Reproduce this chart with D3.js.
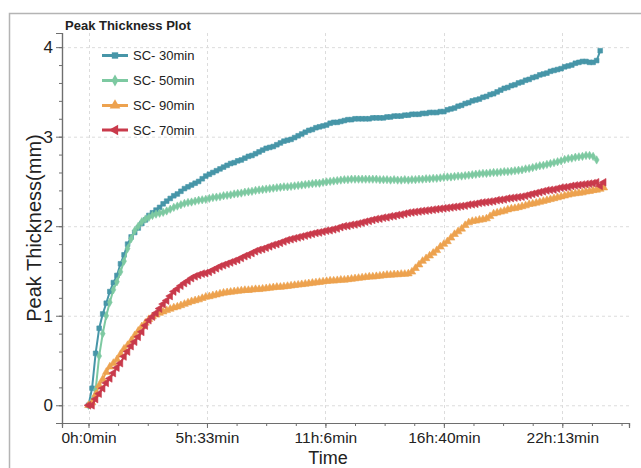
<!DOCTYPE html>
<html><head><meta charset="utf-8">
<script src="https://cdn.jsdelivr.net/npm/d3@7"></script>
<style>body{margin:0;background:#fff}svg{display:block;font-family:Arial,"Liberation Sans",sans-serif}</style>
</head><body><svg id="c" width="641" height="468"></svg>
<script>
// time of each sample, minutes
const timesMin = [0,10,20,30,40,50,60,70,80,90,100,110,120,130,140,150,160,170,180,190,
200,210,220,230,240,250,260,270,280,290,300,310,320,330,340,350,360,370,380,390,
400,410,420,430,440,450,460,470,480,490,500,510,520,530,540,550,560,570,580,590,
600,610,620,630,640,650,660,670,680,690,700,710,720,730,740,750,760,770,780,790,
800,810,820,830,840,850,860,870,880,890,900,910,920,930,940,950,960,970,980,990,
1000,1010,1020,1030,1040,1050,1060,1070,1080,1090,1100,1110,1120,1130,1140,1150,1160,1170,1180,1190,
1200,1210,1220,1230,1240,1250,1260,1270,1280,1290,1300,1310,1320,1330,1340,1350,1360,1370,1380,1390,
1400,1410,1420,1430,1440,1450];

const sc30 = [0,0.19,0.58,0.86,1.02,1.14,1.27,1.37,1.45,1.58,
1.68,1.80,1.88,1.93,1.98,2.03,2.07,2.12,2.15,2.18,
2.21,2.25,2.28,2.31,2.34,2.36,2.39,2.42,2.44,2.46,
2.48,2.50,2.53,2.56,2.58,2.60,2.62,2.64,2.66,2.68,
2.70,2.71,2.73,2.74,2.76,2.78,2.79,2.81,2.83,2.85,
2.87,2.88,2.89,2.91,2.93,2.95,2.96,2.97,2.99,3.01,
3.03,3.05,3.07,3.08,3.10,3.11,3.12,3.13,3.15,3.16,
3.16,3.17,3.18,3.19,3.19,3.20,3.20,3.20,3.20,3.20,
3.21,3.21,3.21,3.21,3.22,3.22,3.23,3.23,3.23,3.24,
3.24,3.25,3.25,3.25,3.26,3.26,3.27,3.27,3.27,3.28,
3.28,3.30,3.31,3.32,3.34,3.35,3.37,3.38,3.40,3.41,
3.42,3.44,3.45,3.47,3.48,3.50,3.52,3.54,3.55,3.57,
3.58,3.60,3.61,3.63,3.64,3.66,3.67,3.69,3.70,3.71,
3.73,3.74,3.75,3.76,3.78,3.79,3.80,3.82,3.83,3.84,
3.84,3.83,3.83,3.85,3.96];

const sc50 = [0,0.05,0.17,0.55,0.80,1.00,1.15,1.29,1.38,1.49,
1.61,1.75,1.86,1.95,2.00,2.05,2.08,2.10,2.12,2.135,
2.145,2.155,2.17,2.19,2.21,2.225,2.24,2.255,2.265,2.27,
2.28,2.29,2.295,2.30,2.31,2.32,2.325,2.33,2.34,2.345,
2.35,2.36,2.365,2.37,2.38,2.385,2.39,2.40,2.405,2.41,
2.415,2.42,2.425,2.43,2.435,2.44,2.44,2.445,2.45,2.455,
2.46,2.465,2.47,2.475,2.48,2.48,2.49,2.495,2.50,2.505,
2.51,2.515,2.52,2.52,2.525,2.525,2.525,2.525,2.525,2.525,
2.525,2.525,2.52,2.52,2.52,2.515,2.52,2.515,2.515,2.52,
2.515,2.52,2.52,2.525,2.525,2.53,2.53,2.535,2.535,2.54,
2.545,2.55,2.55,2.555,2.56,2.56,2.565,2.57,2.575,2.58,
2.585,2.59,2.59,2.595,2.60,2.60,2.605,2.61,2.61,2.615,
2.62,2.625,2.63,2.64,2.645,2.655,2.665,2.675,2.68,2.69,
2.70,2.71,2.72,2.73,2.745,2.755,2.76,2.77,2.775,2.78,
2.79,2.79,2.78,2.74];

const sc90 = [0,0.03,0.12,0.22,0.29,0.37,0.43,0.47,0.51,0.57,
0.63,0.67,0.72,0.78,0.83,0.88,0.92,0.96,0.99,1.01,
1.03,1.045,1.06,1.075,1.09,1.10,1.115,1.13,1.145,1.16,
1.17,1.18,1.195,1.21,1.215,1.225,1.235,1.245,1.255,1.26,
1.265,1.27,1.275,1.28,1.285,1.285,1.29,1.295,1.295,1.30,
1.305,1.31,1.315,1.32,1.32,1.325,1.33,1.335,1.34,1.345,
1.35,1.355,1.36,1.365,1.37,1.375,1.38,1.385,1.39,1.39,
1.395,1.40,1.40,1.405,1.41,1.415,1.42,1.425,1.43,1.435,
1.435,1.44,1.445,1.45,1.455,1.455,1.46,1.46,1.465,1.465,
1.47,1.49,1.53,1.57,1.61,1.64,1.67,1.70,1.73,1.77,
1.80,1.83,1.87,1.91,1.94,1.97,2.01,2.04,2.055,2.06,
2.07,2.075,2.085,2.11,2.14,2.15,2.16,2.17,2.185,2.195,
2.20,2.21,2.22,2.23,2.245,2.25,2.26,2.27,2.28,2.29,
2.30,2.31,2.32,2.33,2.34,2.35,2.36,2.365,2.37,2.375,
2.385,2.39,2.40,2.405,2.415,2.43];

const sc70 = [0,0,0.07,0.13,0.19,0.25,0.30,0.36,0.42,0.47,
0.545,0.60,0.66,0.71,0.765,0.82,0.89,0.95,0.99,1.03,
1.08,1.13,1.17,1.22,1.27,1.30,1.335,1.365,1.39,1.42,
1.44,1.455,1.47,1.475,1.49,1.51,1.53,1.55,1.565,1.58,
1.595,1.61,1.625,1.645,1.665,1.68,1.70,1.72,1.735,1.745,
1.76,1.775,1.79,1.80,1.815,1.83,1.845,1.855,1.865,1.875,
1.885,1.895,1.905,1.915,1.925,1.93,1.94,1.95,1.955,1.965,
1.975,1.99,2.00,2.005,2.015,2.02,2.03,2.04,2.05,2.06,
2.07,2.08,2.085,2.095,2.10,2.11,2.115,2.125,2.13,2.14,
2.15,2.155,2.16,2.165,2.17,2.175,2.18,2.185,2.19,2.195,
2.20,2.205,2.21,2.215,2.22,2.225,2.23,2.24,2.245,2.25,
2.26,2.265,2.27,2.275,2.28,2.29,2.295,2.30,2.31,2.315,
2.32,2.325,2.33,2.34,2.35,2.36,2.37,2.38,2.39,2.40,
2.405,2.41,2.42,2.43,2.435,2.44,2.45,2.455,2.46,2.465,
2.47,2.475,2.48,2.49,2.45,2.49];

const seriesNames = ["SC- 30min","SC- 50min","SC- 90min","SC- 70min"];
const seriesColors = ["#4796a8","#7dc9a1","#eda24f","#c93a4b"];
const xTickValues = [0,333.333,666.667,1000,1333.333];
const xTickLabels = ["0h:0min","5h:33min","11h:6min","16h:40min","22h:13min"];
const yTickValues = [0,1,2,3,4];
const titleText = "Peak Thickness Plot";
const xTitle = "Time", yTitle = "Peak Thickness(mm)";

(function(){
const seriesValues = [sc30, sc50, sc90, sc70];
const symbols = [
  {type:d3.symbolSquare, size:22, rot:0, lsize:40},
  {type:d3.symbolDiamond, size:20, rot:0, lsize:40},
  {type:d3.symbolTriangle, size:26, rot:0, lsize:50},
  {type:d3.symbolTriangle, size:26, rot:-90, lsize:50}
];

const svg = d3.select("#c");
const pL=62, pR=629, pT=33, pB=423;
const x = d3.scaleLinear().domain([-74.6,1521]).range([pL,pR]);
const y = d3.scaleLinear().domain([-0.198,4.158]).range([pB,pT]);

// frame
svg.append("rect").attr("x",9.5).attr("y",13.5).attr("width",700).attr("height",600)
  .attr("fill","none").attr("stroke","#b4b4b4").attr("stroke-width",1.5);

// grid
const grid = svg.append("g").attr("stroke","#dcdcdc").attr("stroke-dasharray","3,3").attr("stroke-width",1);
grid.selectAll("line.h").data(yTickValues).join("line")
  .attr("x1",pL).attr("x2",pR).attr("y1",d=>y(d)+0.5).attr("y2",d=>y(d)+0.5);
grid.selectAll("line.v").data(xTickValues).join("line")
  .attr("y1",pT).attr("y2",pB).attr("x1",d=>Math.round(x(d))+0.5).attr("x2",d=>Math.round(x(d))+0.5);

// axes
const xMinor = d3.range(0,1521,83.3333);
const xAxisMinor = d3.axisBottom(x).tickValues(xMinor).tickSize(3).tickFormat("");
const xAxis = d3.axisBottom(x).tickValues(xTickValues).tickSize(5).tickPadding(4)
  .tickFormat((d,i)=>xTickLabels[i]);
const gxm = svg.append("g").attr("transform",`translate(0,${pB})`).call(xAxisMinor);
const gx = svg.append("g").attr("transform",`translate(0,${pB})`).call(xAxis);
const yMinor = d3.range(0,4.1,0.2);
const gym = svg.append("g").attr("transform",`translate(${pL},0)`).call(d3.axisLeft(y).tickValues(yMinor).tickSize(3).tickFormat(""));
const gy = svg.append("g").attr("transform",`translate(${pL},0)`).call(d3.axisLeft(y).tickValues(yTickValues).tickSize(6).tickPadding(3).tickFormat(d3.format("d")));
[gx,gy,gxm,gym].forEach(g=>{
  g.selectAll(".domain").attr("stroke","#6e6e6e").attr("stroke-width",1.2);
  g.selectAll(".tick line").attr("stroke","#6e6e6e");
});
gx.selectAll("text").attr("font-size",15.5).attr("fill","#222").attr("font-family","Arial, Liberation Sans, sans-serif");
gy.selectAll("text").attr("font-size",17).attr("fill","#222").attr("font-family","Arial, Liberation Sans, sans-serif");

// titles
svg.append("text").attr("x",65).attr("y",30).attr("font-size",13).attr("font-weight","bold").attr("fill","#222").text(titleText);
svg.append("text").attr("x",328).attr("y",464).attr("text-anchor","middle").attr("font-size",18).attr("fill","#222").text(xTitle);
svg.append("text").attr("transform","translate(41,228) rotate(-90)").attr("text-anchor","middle").attr("font-size",20).attr("fill","#222").text(yTitle);

// series
const line = d3.line().x((d,i)=>x(timesMin[i])).y(d=>y(d));
seriesValues.forEach((vals,si)=>{
  const g = svg.append("g");
  g.append("path").datum(vals).attr("d",line).attr("fill","none")
    .attr("stroke",seriesColors[si]).attr("stroke-width",2).attr("stroke-linejoin","round");
  const sym = d3.symbol().type(symbols[si].type).size(symbols[si].size);
  g.selectAll("path.m").data(vals).join("path").attr("class","m")
    .attr("d",sym)
    .attr("transform",(d,i)=>`translate(${x(timesMin[i])},${y(d)}) rotate(${symbols[si].rot})`)
    .attr("fill",seriesColors[si]).attr("stroke",seriesColors[si]).attr("stroke-width",0.6);
});

// legend
const legendY = [55.5,80.5,105.5,130];
seriesNames.forEach((name,i)=>{
  const g = svg.append("g").attr("transform",`translate(0,${legendY[i]})`);
  g.append("line").attr("x1",102).attr("x2",128).attr("stroke",seriesColors[i]).attr("stroke-width",3);
  g.append("path").attr("d",d3.symbol().type(symbols[i].type).size(symbols[i].lsize))
    .attr("transform",`translate(115,0) rotate(${symbols[i].rot})`).attr("fill",seriesColors[i]);
  g.append("text").attr("x",133).attr("y",0).attr("dy","0.35em").attr("font-size",13).attr("fill","#222").text(name);
});
})();
</script></body></html>
